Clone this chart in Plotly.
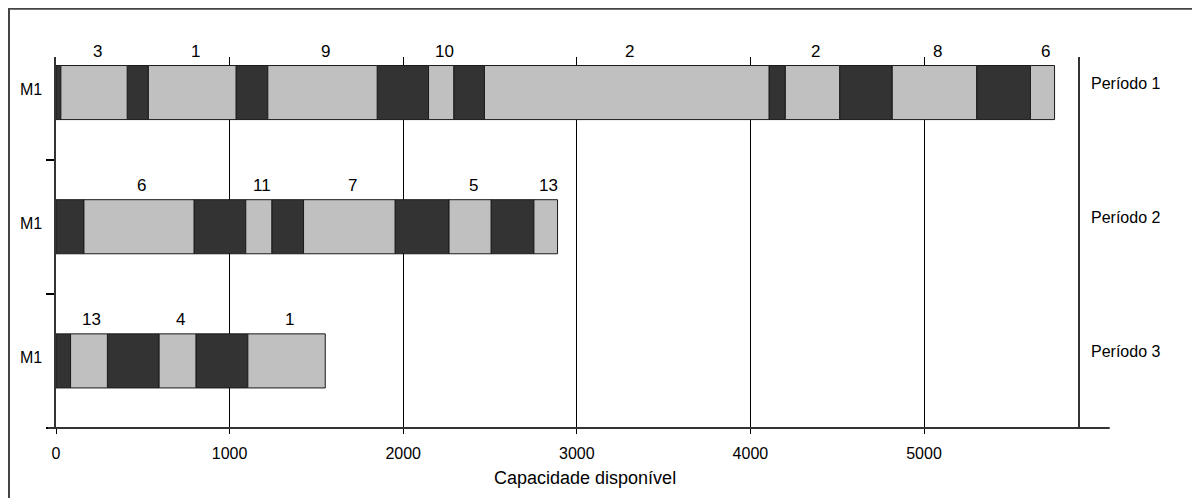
import numpy as np
import plotly.graph_objects as go

# durations per period, alternating setup (dark) / processing (light), starting with setup
periods = ['Período 1', 'Período 2', 'Período 3']
machines = ['M1', 'M1', 'M1']
p1_durations = [28, 382, 122, 505, 183, 630, 296, 145, 177, 1639, 94, 313, 303, 486, 310, 139]
p1_jobs = ['3', '1', '9', '10', '2', '2', '8', '6']
p2_durations = [161, 634, 298, 150, 183, 527, 311, 242, 247, 136]
p2_jobs = ['6', '11', '7', '5', '13']
p3_durations = [84, 212, 298, 212, 299, 446]
p3_jobs = ['13', '4', '1']

x_ticks = [0, 1000, 2000, 3000, 4000, 5000]

colors = {'setup': '#333333', 'proc': '#c0c0c0', 'edge': '#1a1a1a'}
FONT = 'Liberation Sans Narrow, Arial Narrow, Liberation Sans, Arial'

rows = [(p1_durations, p1_jobs), (p2_durations, p2_jobs), (p3_durations, p3_jobs)]
row_y = [2, 1, 0]
bar_w = 0.403

fig = go.Figure()
annotations = []

for (durs, jobs), yv, per, mac in zip(rows, row_y, periods, machines):
    durs = np.array(durs)
    bases = np.concatenate([[0], np.cumsum(durs)[:-1]])
    for kind, idx in (('setup', slice(0, None, 2)), ('proc', slice(1, None, 2))):
        fig.add_trace(go.Bar(
            x=durs[idx], base=bases[idx], y=[yv] * len(durs[idx]),
            orientation='h', width=bar_w,
            marker=dict(color=colors[kind], line=dict(color=colors['edge'], width=1)),
            showlegend=False, hoverinfo='skip'))
    centers = bases[1::2] + durs[1::2] / 2
    for cx, job in zip(centers, jobs):
        annotations.append(dict(x=cx, y=yv + bar_w / 2, xref='x', yref='y', text=job,
                                showarrow=False, yanchor='bottom', xshift=3, yshift=3,
                                font=dict(size=17, color='black', family=FONT)))
    annotations.append(dict(x=1.0108, y=yv, xref='paper', yref='y', text=per,
                            showarrow=False, xanchor='left', yshift=9,
                            font=dict(size=16, color='black', family=FONT)))
    annotations.append(dict(x=-0.0245, y=yv, xref='paper', yref='y', text=mac,
                            showarrow=False, xanchor='center', yshift=3,
                            font=dict(size=16, color='black', family=FONT)))

annotations.append(dict(x=0.5176, y=-0.167, xref='paper', yref='paper',
                        text='Capacidade disponível', showarrow=False,
                        font=dict(size=18, color='black', family=FONT)))

# the page adds an 8px body margin, so the plot box is placed 8px up/left of the target
fig.update_layout(
    width=1200, height=498,
    margin=dict(l=48, r=130, t=49, b=78),
    plot_bgcolor='white', paper_bgcolor='white',
    barmode='overlay', showlegend=False,
    font=dict(family=FONT, size=16, color='black'),
    annotations=annotations,
    shapes=[
        # bottom axis line, running a bit past both ends
        dict(type='line', xref='paper', yref='paper', x0=-0.008, x1=1.031, y0=0, y1=0,
             line=dict(color='#333333', width=2)),
        # outer frame
        dict(type='line', xref='paper', yref='paper', x0=-0.046, x1=-0.046, y0=1.13, y1=-0.25,
             line=dict(color='#444444', width=2)),
        dict(type='line', xref='paper', yref='paper', x0=-0.047, x1=1.2, y0=1.13, y1=1.13,
             line=dict(color='#444444', width=2)),
    ],
)

fig.update_xaxes(
    range=[0, 5887], tickvals=x_ticks, ticks='outside', ticklen=5, tickcolor='black',
    showgrid=True, gridcolor='black', gridwidth=1, zeroline=False,
    showline=False, tickfont=dict(size=16, family=FONT), ticklabelstandoff=6,
)
fig.update_yaxes(
    range=[-0.5, 2.265], tickvals=[-0.5, 0.5, 1.5], ticktext=['', '', ''],
    ticks='outside', ticklen=8, tickcolor='black', tickwidth=2,
    showline=True, linecolor='#333333', linewidth=2, mirror=True,
    showgrid=False, zeroline=False,
)

fig.write_html('out.html')
